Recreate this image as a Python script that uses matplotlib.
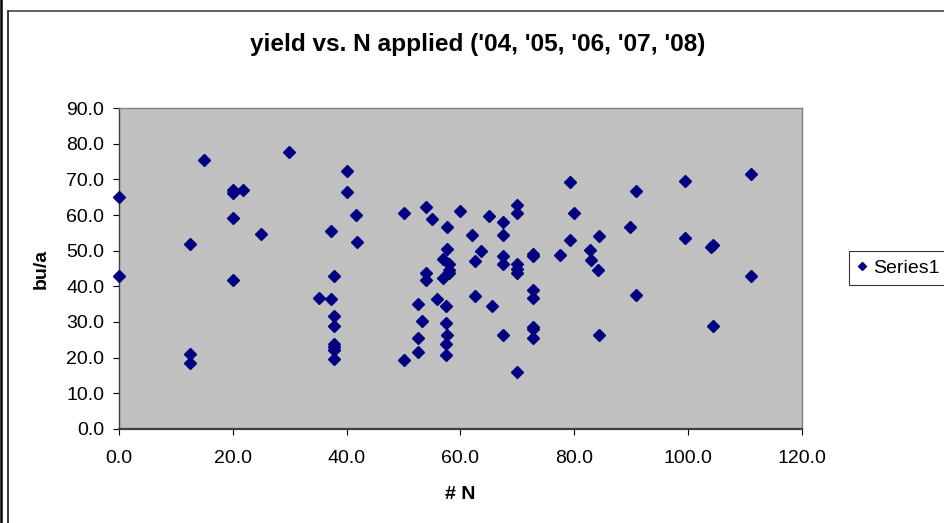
import matplotlib
matplotlib.use("Agg")
import matplotlib.pyplot as plt
from matplotlib.lines import Line2D
from matplotlib.ticker import FormatStrFormatter

plt.rcParams["font.family"] = ["Liberation Sans", "DejaVu Sans"]

# N applied (x) and yield in bu/a (y)
n_applied = [
    0.0, 0.0,
    12.5, 12.5, 12.5,
    14.9,
    20.0, 20.0, 20.0, 20.0,
    21.7, 25.0, 29.8,
    35.1, 37.3, 37.3,
    37.8, 37.8, 37.8, 37.8, 37.8, 37.8, 37.8,
    40.0, 40.0, 41.7, 41.9,
    50.0, 50.0,
    52.6, 52.6, 52.6, 53.2,
    53.9, 53.9, 53.9,
    55.0, 55.8,
    57.0, 57.0,
    57.5, 57.5, 57.5, 57.5,
    57.7, 57.7, 57.7,
    57.9, 57.9, 57.9,
    60.0, 62.0, 62.6, 62.6, 63.6, 65.0, 65.6,
    67.5, 67.5, 67.5, 67.5, 67.5,
    70.0, 70.0, 70.0, 70.0, 70.0, 70.0,
    72.7, 72.7, 72.7, 72.7, 72.7, 72.7, 72.7,
    77.5, 79.2, 79.2, 80.0, 82.7, 82.9, 84.1, 84.4, 84.4,
    89.8, 90.9, 90.9,
    99.4, 99.4, 104.0, 104.3, 104.3,
    111.1, 111.1,
]
yield_bu = [
    65.0, 42.8,
    52.0, 21.0, 18.4,
    75.5,
    67.1, 66.3, 59.3, 41.9,
    67.1, 54.6, 77.7,
    36.7, 55.4, 36.3,
    42.8, 31.6, 28.9, 23.9, 23.0, 22.1, 19.6,
    72.3, 66.6, 60.1, 52.4,
    60.6, 19.4,
    35.0, 25.4, 21.5, 30.2,
    62.4, 43.7, 41.7,
    58.8, 36.3,
    47.8, 42.4,
    34.6, 29.8, 23.7, 20.7,
    56.6, 50.6, 26.3,
    46.2, 44.5, 43.6,
    61.1, 54.5, 47.1, 37.2, 49.8, 59.8, 34.6,
    58.0, 54.5, 48.5, 46.2, 26.3,
    62.9, 60.6, 46.4, 45.0, 43.6, 15.9,
    49.0, 48.4, 38.9, 36.6, 28.6, 28.1, 25.4,
    48.9, 69.3, 52.9, 60.7, 50.3, 47.5, 44.5, 54.1, 26.3,
    56.6, 66.7, 37.6,
    69.7, 53.7, 51.0, 51.5, 28.9,
    71.5, 42.8,
]

W, H = 945, 523
fig = plt.figure(figsize=(W / 100, H / 100), dpi=100)
fig.patch.set_facecolor("white")

# chart area frame (excel style)
fig.add_artist(Line2D([1.2 / W, 1.2 / W], [0, 1], color="black", lw=1.8))
fig.add_artist(Line2D([8.5 / W, 8.5 / W], [0, 1 - 10.5 / H], color="black", lw=1.1))
fig.add_artist(Line2D([8.5 / W, 1], [1 - 10.5 / H, 1 - 10.5 / H], color="#333333", lw=1.1))

left, right, top, bottom = 119, 802, 108.3, 428.7
ax = fig.add_axes([left / W, 1 - bottom / H, (right - left) / W, (bottom - top) / H])
ax.set_facecolor("#C0C0C0")

ax.plot(n_applied, yield_bu, linestyle="none", marker="D", ms=5.8,
        color="#000080", label="Series1", clip_on=False, zorder=3)

ax.set_xlim(0, 120)
ax.set_ylim(0, 90)
ax.set_xticks(range(0, 121, 20))
ax.set_yticks(range(0, 91, 10))
ax.xaxis.set_major_formatter(FormatStrFormatter("%.1f"))
ax.yaxis.set_major_formatter(FormatStrFormatter("%.1f"))
ax.tick_params(axis="both", direction="out", length=4.5, width=0.8,
               labelsize=14, color="black")
ax.tick_params(axis="y", pad=6)
ax.tick_params(axis="x", pad=11)

for s in ["top", "right"]:
    ax.spines[s].set_color("#808080")
    ax.spines[s].set_linewidth(1.0)
ax.spines["left"].set_color("#404040")
ax.spines["left"].set_linewidth(1.0)
ax.spines["bottom"].set_color("#404040")
ax.spines["bottom"].set_linewidth(1.6)

ax.set_ylabel("bu/a", fontsize=14, fontweight="bold")
ax.yaxis.set_label_coords(-0.101, 0.5)
ax.set_xlabel("# N", fontsize=14, fontweight="bold")
ax.xaxis.set_label_coords(0.5, -0.178)

fig.text(0.506, 0.914, "yield vs. N applied ('04, '05, '06, '07, '08)",
         ha="center", va="center", fontsize=17.6, fontweight="bold")

leg = ax.legend(loc="center left", bbox_to_anchor=(849 / W, 1 - 268 / H),
                bbox_transform=fig.transFigure, fontsize=14, frameon=True,
                fancybox=False, markerscale=0.75, handlelength=0.5,
                handletextpad=0.35, borderpad=0.4, borderaxespad=0)
leg.get_frame().set_edgecolor("black")
leg.get_frame().set_linewidth(0.8)

fig.savefig("out.png", dpi=100)
